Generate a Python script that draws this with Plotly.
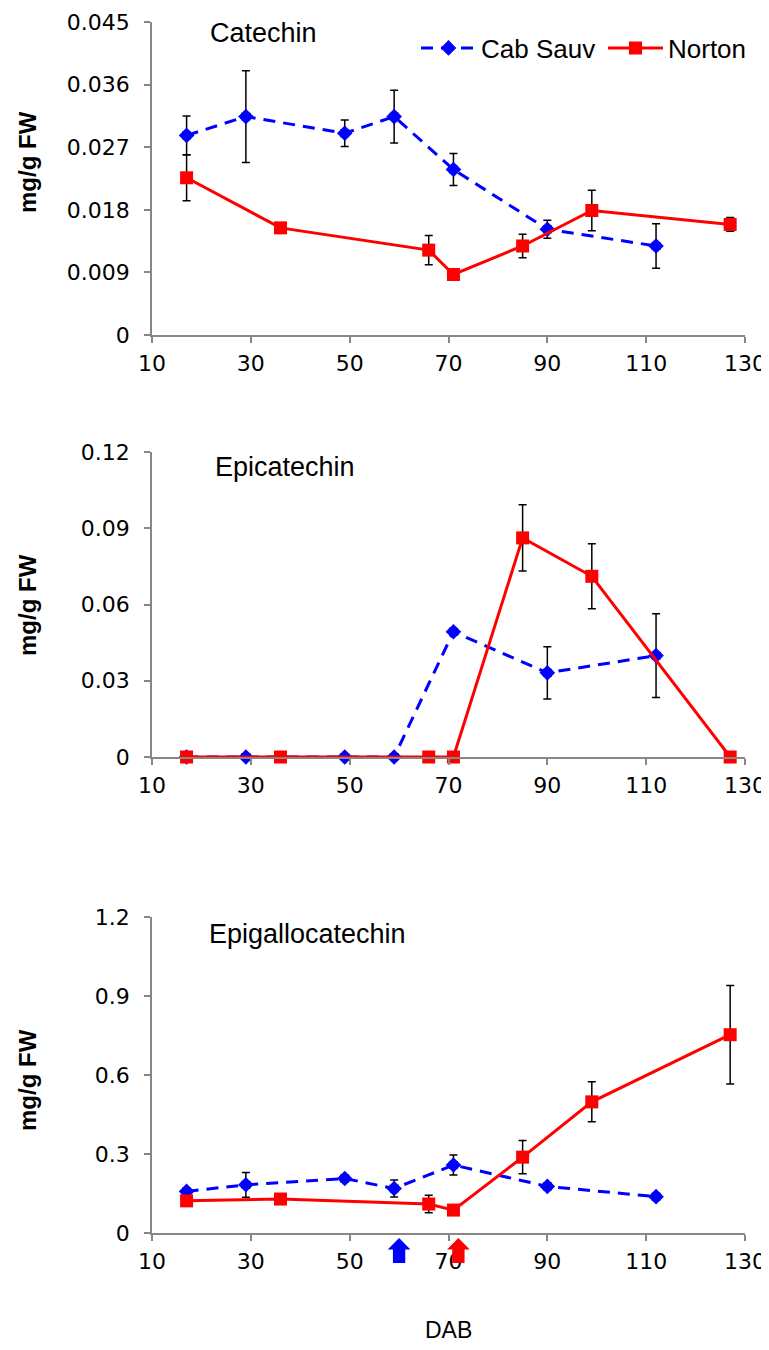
import plotly.graph_objects as go

# page is 769x1350; the browser puts an 8px body margin around the figure
PAGE_W, PAGE_H = 769, 1350
OFF = 8
W, H = PAGE_W - OFF, PAGE_H - OFF

# ---------------- data ----------------
cat_cs_x = [17, 29, 49, 59, 71, 90, 112]
cat_cs_y = [0.0287, 0.0314, 0.0290, 0.0314, 0.0238, 0.0152, 0.0128]
cat_cs_e = [0.0028, 0.0066, 0.0019, 0.0038, 0.0023, 0.0013, 0.0032]
cat_no_x = [17, 36, 66, 71, 85, 99, 127]
cat_no_y = [0.0226, 0.0154, 0.0122, 0.0087, 0.0128, 0.0179, 0.0159]
cat_no_e = [0.0033, 0.0005, 0.0021, 0.0005, 0.0017, 0.0029, 0.0010]

epi_cs_x = [17, 29, 49, 59, 71, 90, 112]
epi_cs_y = [0.0, 0.0, 0.0, 0.0, 0.0493, 0.0331, 0.0399]
epi_cs_e = [0.0, 0.0, 0.0, 0.0, 0.0010, 0.0103, 0.0165]
epi_no_x = [17, 36, 66, 71, 85, 99, 127]
epi_no_y = [0.0, 0.0, 0.0, 0.0, 0.0862, 0.0711, 0.0]
epi_no_e = [0.0, 0.0, 0.0, 0.0, 0.0130, 0.0128, 0.0]

egc_cs_x = [17, 29, 49, 59, 71, 90, 112]
egc_cs_y = [0.158, 0.183, 0.207, 0.169, 0.258, 0.177, 0.138]
egc_cs_e = [0.010, 0.047, 0.012, 0.032, 0.038, 0.012, 0.012]
egc_no_x = [17, 36, 66, 71, 85, 99, 127]
egc_no_y = [0.122, 0.129, 0.110, 0.087, 0.288, 0.498, 0.753]
egc_no_e = [0.010, 0.015, 0.033, 0.005, 0.063, 0.076, 0.187]

panel_names = ["Catechin", "Epicatechin", "Epigallocatechin"]
y_ticks = [
    [0, 0.009, 0.018, 0.027, 0.036, 0.045],
    [0, 0.03, 0.06, 0.09, 0.12],
    [0, 0.3, 0.6, 0.9, 1.2],
]
y_ticktext = [
    ["0", "0.009", "0.018", "0.027", "0.036", "0.045"],
    ["0", "0.03", "0.06", "0.09", "0.12"],
    ["0", "0.3", "0.6", "0.9", "1.2"],
]
x_ticks = [10, 30, 50, 70, 90, 110, 130]
series_names = ["Cab Sauv", "Norton"]
y_title = "mg/g FW"
x_title = "DAB"
arrow_days = [60, 72]          # markers under the bottom axis (Cab Sauv, Norton)
arrow_colors = ["#0000FF", "#FF0000"]

# ---------------- styling ----------------
FONT = "Liberation Sans, Arial, sans-serif"
TICKFONT = "DejaVu Sans, Liberation Sans, sans-serif"
BLUE = "#0000FF"
RED = "#FF0000"
AXC = "#868686"


def px_x(p):
    return (p - OFF) / W


def px_y(p):
    return 1 - (p - OFF) / H


x_dom = [px_x(152), px_x(745)]
panels_px = [(22, 335), (452, 757), (917, 1233)]   # (top, bottom) page px
y_doms = [[px_y(b), px_y(t)] for (t, b) in panels_px]

data_sets = [
    (cat_cs_x, cat_cs_y, cat_cs_e, cat_no_x, cat_no_y, cat_no_e),
    (epi_cs_x, epi_cs_y, epi_cs_e, epi_no_x, epi_no_y, epi_no_e),
    (egc_cs_x, egc_cs_y, egc_cs_e, egc_no_x, egc_no_y, egc_no_e),
]

fig = go.Figure()

for i, (csx, csy, cse, nox, noy, noe) in enumerate(data_sets):
    xa = "x" if i == 0 else f"x{i+1}"
    ya = "y" if i == 0 else f"y{i+1}"
    fig.add_trace(go.Scatter(
        x=csx, y=csy, mode="lines+markers", name=series_names[0],
        xaxis=xa, yaxis=ya, showlegend=(i == 0), cliponaxis=False,
        line=dict(color=BLUE, width=3, dash="12px,8px"),
        marker=dict(symbol="diamond", size=12, color=BLUE),
        error_y=dict(type="data", array=cse, color="black", thickness=1.5, width=4),
        error_x=dict(type="constant", value=0.8, color="black", thickness=1, width=4),
    ))
    fig.add_trace(go.Scatter(
        x=nox, y=noy, mode="lines+markers", name=series_names[1],
        xaxis=xa, yaxis=ya, showlegend=(i == 0), cliponaxis=False,
        line=dict(color=RED, width=3),
        marker=dict(symbol="square", size=13, color=RED),
        error_y=dict(type="data", array=noe, color="black", thickness=1.5, width=4),
    ))

layout = dict(
    width=W, height=H,
    margin=dict(l=0, r=0, t=0, b=0, autoexpand=False),
    paper_bgcolor="white", plot_bgcolor="white",
    font=dict(family=FONT, size=22, color="black"),
    legend=dict(orientation="h", x=px_x(416), y=px_y(48), xanchor="left", yanchor="middle",
                font=dict(size=26, family=FONT), bgcolor="rgba(0,0,0,0)",
                itemwidth=55, tracegroupgap=0, entrywidth=117, entrywidthmode="pixels"),
    showlegend=True,
)

for i in range(3):
    xk = "xaxis" if i == 0 else f"xaxis{i+1}"
    yk = "yaxis" if i == 0 else f"yaxis{i+1}"
    ya = "y" if i == 0 else f"y{i+1}"
    xa = "x" if i == 0 else f"x{i+1}"
    layout[xk] = dict(
        domain=x_dom, anchor=ya, range=[10, 130], tickvals=x_ticks,
        showgrid=False, zeroline=False, showline=True, linecolor=AXC, linewidth=1.5,
        ticks="outside", ticklen=6, tickcolor=AXC, tickwidth=1.5,
        tickfont=dict(size=22, family=TICKFONT), automargin=False,
        ticklabelstandoff=2, fixedrange=True,
    )
    layout[yk] = dict(
        domain=y_doms[i], anchor=xa, range=[0, y_ticks[i][-1]],
        tickvals=y_ticks[i], ticktext=y_ticktext[i],
        showgrid=False, zeroline=False, showline=True, linecolor=AXC, linewidth=1.5,
        ticks="outside", ticklen=6, tickcolor=AXC, tickwidth=1.5,
        tickfont=dict(size=22, family=TICKFONT), automargin=False,
        ticklabelstandoff=10, fixedrange=True,
    )

fig.update_layout(**layout)

# panel labels
label_x = [208, 213, 207]
label_y = [33, 467, 934]
for i, name in enumerate(panel_names):
    fig.add_annotation(text=name, xref="paper", yref="paper",
                       x=px_x(label_x[i]), y=px_y(label_y[i]),
                       xanchor="left", yanchor="middle", showarrow=False,
                       font=dict(size=27, family=FONT, color="black"))

# y titles
ytitle_y = [162, 605, 1080]
for yy in ytitle_y:
    fig.add_annotation(text=f"<b>{y_title}</b>", xref="paper", yref="paper",
                       x=px_x(27), y=px_y(yy), xanchor="center", yanchor="middle",
                       textangle=-90, showarrow=False,
                       font=dict(size=24, family=FONT, color="black"))

# x title
fig.add_annotation(text=x_title, xref="paper", yref="paper",
                   x=(x_dom[0] + x_dom[1]) / 2, y=px_y(1330),
                   xanchor="center", yanchor="middle", showarrow=False,
                   font=dict(size=23, family=FONT, color="black"))

# block arrows under the bottom axis
for d, c in zip(arrow_days, arrow_colors):
    hw, sw = 2.3, 1.25  # half widths in days (head, shaft)
    top, neck, bot = -0.016, -0.052, -0.095
    path = (f"M {d} {top} L {d+hw} {neck} L {d+sw} {neck} L {d+sw} {bot} "
            f"L {d-sw} {bot} L {d-sw} {neck} L {d-hw} {neck} Z")
    fig.add_shape(type="path", path=path, xref="x3", yref="y3 domain",
                  fillcolor=c, line=dict(width=0), layer="above")

fig.write_html("out.html")
